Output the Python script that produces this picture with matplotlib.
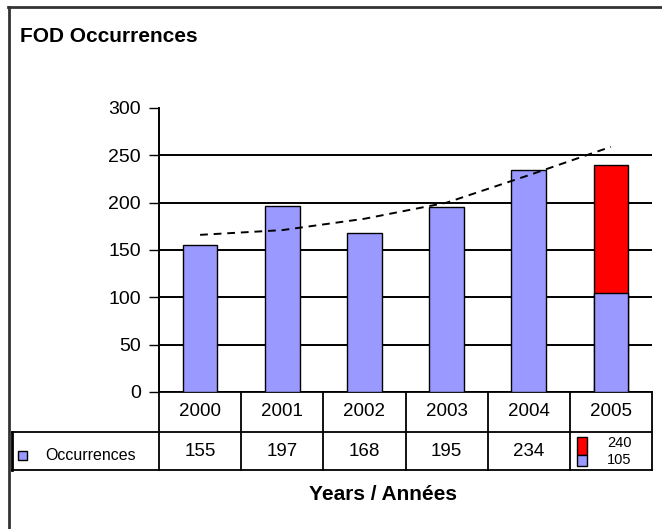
import numpy as np
import matplotlib
matplotlib.use("Agg")
import matplotlib.pyplot as plt
from matplotlib.patches import Rectangle

plt.rcParams['font.family'] = ['Liberation Sans', 'DejaVu Sans']

# data
years = ['2000', '2001', '2002', '2003', '2004', '2005']
occurrences = [155, 197, 168, 195, 234, 105]
total_2005 = 240
trend = [166, 171, 183, 200, 229, 259]   # dashed trend line

W, H = 662, 529
fig = plt.figure(figsize=(W / 100, H / 100), dpi=100)
fig.patch.set_facecolor('white')

# overlay in pixel coords for frame, title and data table
ov = fig.add_axes([0, 0, 1, 1])
ov.set_xlim(0, W)
ov.set_ylim(H, 0)
ov.axis('off')

# plot area (pixels)
x0, x1 = 159, 652
ytop, y0 = 108, 392
ax = fig.add_axes([x0 / W, (H - y0) / H, (x1 - x0) / W, (y0 - ytop) / H])
ax.patch.set_alpha(0)

x = np.arange(len(years))
blue = '#9999FF'
ax.bar(5, total_2005, width=0.42, color='#FF0000', edgecolor='black', linewidth=1, zorder=3)
ax.bar(x, occurrences, width=0.42, color=blue, edgecolor='black', linewidth=1, zorder=3)
ax.plot(x, trend, color='black', linestyle=(0, (4, 3)), linewidth=1.4, zorder=4)

ax.set_xlim(-0.5, 5.5)
ax.set_ylim(0, 300)
ax.set_yticks(range(0, 301, 50))
ax.set_xticks([])
ax.tick_params(axis='y', length=7, width=1, labelsize=14, pad=6)
ax.yaxis.grid(True, color='black', linewidth=1.4)
ax.get_ygridlines()[-1].set_visible(False)
ax.set_axisbelow(True)
for s in ['top', 'right', 'bottom']:
    ax.spines[s].set_visible(False)
ax.spines['left'].set_linewidth(1.4)

# outer frame
ov.plot([8, W], [7, 7], color='#333333', lw=2)
ov.plot([9, 9], [7, H], color='#333333', lw=2)

ov.text(20, 36, 'FOD Occurrences', fontsize=15, fontweight='bold', va='center', ha='left')

# data table
step = (x1 - x0) / len(years)
edges = [x0 + i * step for i in range(len(years) + 1)]
r1, r2, r3 = 392, 432, 470
lw = 1.3
ov.plot([x0, x1], [r1, r1], color='black', lw=lw)
ov.plot([12, x1], [r2, r2], color='black', lw=lw)
ov.plot([12, x1], [r3, r3], color='black', lw=lw)
for e in edges:
    ov.plot([e, e], [r1, r3], color='black', lw=lw)
ov.plot([12, 12], [r2, r3], color='black', lw=2)

for i, yr in enumerate(years):
    cx = (edges[i] + edges[i + 1]) / 2
    ov.text(cx, 412, yr, fontsize=13.5, ha='center', va='center')
    if i < len(years) - 1:
        ov.text(cx, 452, str(occurrences[i]), fontsize=13.5, ha='center', va='center')

ov.add_patch(Rectangle((18, 451), 9, 9, facecolor=blue, edgecolor='black', lw=1))
ov.text(45, 455, 'Occurrences', fontsize=11.5, ha='left', va='center')

# 2005 cell: two stacked values
ov.add_patch(Rectangle((577, 437), 10, 18, facecolor='#FF0000', edgecolor='black', lw=1))
ov.add_patch(Rectangle((577, 455), 10, 11, facecolor=blue, edgecolor='black', lw=1))
ov.text(619, 443, str(total_2005), fontsize=10.5, ha='center', va='center')
ov.text(619, 460, str(occurrences[5]), fontsize=10.5, ha='center', va='center')

ov.text(383, 495, 'Years / Années', fontsize=15, fontweight='bold', ha='center', va='center')

fig.savefig('out.png', dpi=100)
